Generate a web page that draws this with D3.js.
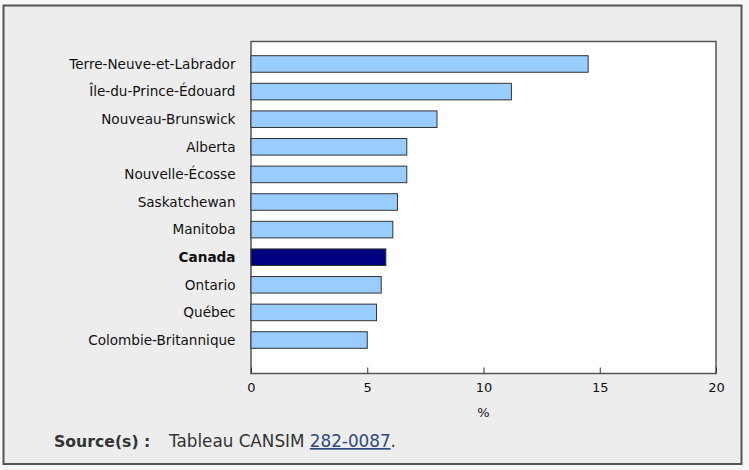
<!DOCTYPE html>
<html>
<head>
<meta charset="utf-8">
<script src="https://cdn.jsdelivr.net/npm/d3@7"></script>
<style>
  html, body { margin: 0; padding: 0; background: #f7f7f7; }
  svg { display: block; }
</style>
</head>
<body>
<svg id="chart" width="749" height="470"></svg>
<script>
const categories = [
  "Terre-Neuve-et-Labrador",
  "Île-du-Prince-Édouard",
  "Nouveau-Brunswick",
  "Alberta",
  "Nouvelle-Écosse",
  "Saskatchewan",
  "Manitoba",
  "Canada",
  "Ontario",
  "Québec",
  "Colombie-Britannique"
];
const values = [14.5, 11.2, 8.0, 6.7, 6.7, 6.3, 6.1, 5.8, 5.6, 5.4, 5.0];
const highlight = ["Canada"];
const xTicks = [0, 5, 10, 15, 20];
const xLabel = "%";

const svg = d3.select("#chart");
const font = "'DejaVu Sans', Verdana, sans-serif";

// outer panel
svg.append("rect")
  .attr("x", 3.5).attr("y", 5.5).attr("width", 738).attr("height", 458.5)
  .attr("fill", "#ededed").attr("stroke", "#555").attr("stroke-width", 2);

const plot = { left: 251, right: 716, top: 41.5, bottom: 373.5 };

const x = d3.scaleLinear().domain([0, 20]).range([plot.left, plot.right]);
const y = d3.scaleBand().domain(categories).range([55.7, 348.3]).paddingInner(0.4).paddingOuter(0);

// plot area
svg.append("rect")
  .attr("x", plot.left).attr("y", plot.top)
  .attr("width", plot.right - plot.left).attr("height", plot.bottom - plot.top)
  .attr("fill", "#fff").attr("stroke", "#555").attr("stroke-width", 1.5);

// bars
svg.append("g").selectAll("rect").data(categories).join("rect")
  .attr("x", x(0))
  .attr("y", d => y(d))
  .attr("width", (d, i) => x(values[i]) - x(0))
  .attr("height", y.bandwidth())
  .attr("fill", d => highlight.includes(d) ? "#000080" : "#99ccff")
  .attr("stroke", "#333")
  .attr("stroke-width", 1);

// category labels
svg.append("g").selectAll("text").data(categories).join("text")
  .attr("x", 235.5)
  .attr("y", d => y(d) + y.bandwidth() / 2)
  .attr("dy", "0.36em")
  .attr("text-anchor", "end")
  .attr("font-family", font)
  .attr("font-size", 13.6)
  .attr("font-weight", d => highlight.includes(d) ? "bold" : "normal")
  .attr("fill", "#111")
  .text(d => d);

// x axis
const xAxis = d3.axisBottom(x).tickValues(xTicks).tickSize(-6).tickPadding(9.5).tickFormat(d3.format("d"));
const gx = svg.append("g").attr("transform", `translate(0,${plot.bottom})`).call(xAxis);
gx.select(".domain").remove();
gx.selectAll(".tick line").attr("stroke", "#333").attr("stroke-width", 1);
gx.selectAll(".tick text").attr("font-family", font).attr("font-size", 13).attr("fill", "#111");

svg.append("text")
  .attr("x", x(10)).attr("y", 417)
  .attr("text-anchor", "middle")
  .attr("font-family", font).attr("font-size", 13).attr("fill", "#111")
  .text(xLabel);

// source
const src = svg.append("text")
  .attr("x", 54).attr("y", 447)
  .attr("font-family", font).attr("font-size", 16.8).attr("fill", "#333");
src.append("tspan").attr("font-weight", "bold").attr("font-size", 15.7).text("Source(s) :");
src.append("tspan").attr("x", 169).text("Tableau CANSIM ");
src.append("tspan").attr("fill", "#2a4a7f").attr("text-decoration", "underline").text("282-0087");
src.append("tspan").text(".");
</script>
</body>
</html>
